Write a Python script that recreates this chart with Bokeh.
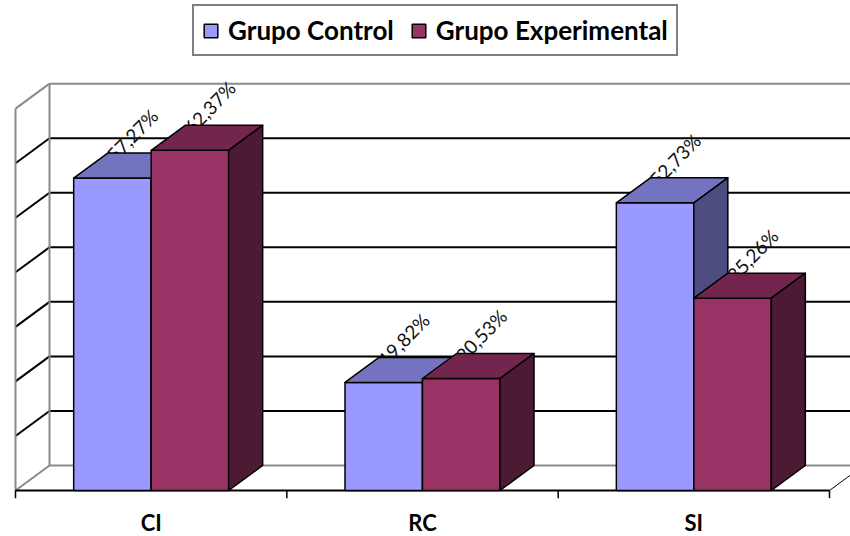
from bokeh.plotting import figure
from bokeh.models import ColumnDataSource, Legend, LegendItem, Range1d
from bokeh.core.properties import value
from bokeh.embed import file_html
from bokeh.resources import INLINE

# ---------------- data ----------------
categories = ["CI", "RC", "SI"]
series_names = ["Grupo Control", "Grupo Experimental"]
control = [57.27, 19.82, 52.73]
experimental = [62.37, 20.53, 35.26]
y_ticks = [0, 10, 20, 30, 40, 50, 60, 70]

# ---------------- styling / geometry ----------------
DX = 0.1253      # depth offset in category units
DY = 4.583       # depth offset in % units
BW = 0.2856      # bar width in category units
XL, XR = -0.5, len(categories) - 0.5
Y_MAX = y_ticks[-1]
GRAY = "#8a8a8a"
FONT = "Lato"

colors = {
    "control": ("#9999FF", "#7373BF", "#4D4D80"),
    "exp": ("#993366", "#73264D", "#4D1A33"),
}

p = figure(width=850, height=536, output_backend="svg", toolbar_location=None,
           x_range=Range1d(-0.5553, 2.5774), y_range=Range1d(-8.433, 89.83),
           x_axis_type=None, y_axis_type=None, min_border=0,
           outline_line_color=None, background_fill_color="white",
           border_fill_color="white")

# ---------------- walls & grid ----------------
inner = y_ticks[1:-1]
# back wall grid lines (black)
p.segment(x0=[XL + DX] * len(inner), y0=[v + DY for v in inner],
          x1=[XR + DX] * len(inner), y1=[v + DY for v in inner],
          line_color="black", line_width=2)
# left wall diagonals (black)
p.segment(x0=[XL] * len(inner), y0=inner,
          x1=[XL + DX] * len(inner), y1=[v + DY for v in inner],
          line_color="black", line_width=2)
# gray outlines: back floor line, back wall top, left wall edges
edge_v = [y_ticks[0], Y_MAX]
p.segment(x0=[XL + DX] * 2, y0=[v + DY for v in edge_v],
          x1=[XR + DX] * 2, y1=[v + DY for v in edge_v],
          line_color=GRAY, line_width=2)
p.segment(x0=[XL] * 2, y0=edge_v, x1=[XL + DX] * 2, y1=[v + DY for v in edge_v],
          line_color=GRAY, line_width=2)
p.segment(x0=[XL, XL + DX], y0=[0, DY], x1=[XL, XL + DX], y1=[Y_MAX, Y_MAX + DY],
          line_color=GRAY, line_width=2)
# front floor line + right floor edge + ticks
p.segment(x0=[XL], y0=[0], x1=[XR], y1=[0], line_color="black", line_width=2)
p.segment(x0=[XR], y0=[0], x1=[XR + DX], y1=[DY], line_color="black", line_width=1)
bounds = [XL + i for i in range(len(categories) + 1)]
p.segment(x0=bounds, y0=[0] * len(bounds), x1=bounds, y1=[-1.4] * len(bounds),
          line_color="black", line_width=1.5)


def fmt(v):
    return f"{v:.2f}%".replace(".", ",")


# ---------------- data labels (drawn behind the bars) ----------------
for vals, off in ((control, -BW / 2), (experimental, BW / 2)):
    lx = [i + off + DX / 2 + 0.01 for i in range(len(vals))]
    ly = [v + DY / 2 + 5.6 for v in vals]
    p.text(x=lx, y=ly, text=[fmt(v) for v in vals], angle=0.80,
           text_align="center", text_baseline="middle",
           text_font=value(FONT), text_font_size="19px", text_color="#111111")

# ---------------- 3D bars ----------------
renderers = []
for vals, (front, top, side), x_left in ((control, colors["control"], -BW),
                                         (experimental, colors["exp"], 0.0)):
    lefts = [i + x_left for i in range(len(vals))]
    rights = [l + BW for l in lefts]
    src = ColumnDataSource(dict(left=lefts, right=rights, top=vals,
                                bottom=[0] * len(vals)))
    r = p.quad(left="left", right="right", top="top", bottom="bottom", source=src,
               fill_color=front, line_color="black", line_width=1.5)
    renderers.append(r)
    top_xs = [[l, r_, r_ + DX, l + DX] for l, r_ in zip(lefts, rights)]
    top_ys = [[v, v, v + DY, v + DY] for v in vals]
    p.patches(xs=top_xs, ys=top_ys, fill_color=top, line_color="black",
              line_width=1.5, line_join="round")
    side_xs = [[r_, r_ + DX, r_ + DX, r_] for r_ in rights]
    side_ys = [[0, DY, v + DY, v] for v in vals]
    p.patches(xs=side_xs, ys=side_ys, fill_color=side, line_color="black",
              line_width=1.5, line_join="round")

# ---------------- category labels ----------------
p.text(x=list(range(len(categories))), y=[-5.9] * len(categories), text=categories,
       text_align="center", text_baseline="middle", text_font=value(FONT),
       text_font_size="22px", text_font_style="bold", text_color="black")

# ---------------- legend ----------------
legend = Legend(items=[LegendItem(label=n, renderers=[r])
                       for n, r in zip(series_names, renderers)],
                orientation="horizontal", location=(192, 480),
                border_line_color="black", border_line_width=2,
                label_text_font=FONT, label_text_font_size="26px",
                label_text_font_style="bold", label_text_color="black",
                glyph_width=17, glyph_height=17, label_standoff=9,
                spacing=16, padding=8, margin=0,
                background_fill_color="white", background_fill_alpha=1)
p.add_layout(legend, "center")

open("out.html", "w").write(file_html(p, INLINE))
